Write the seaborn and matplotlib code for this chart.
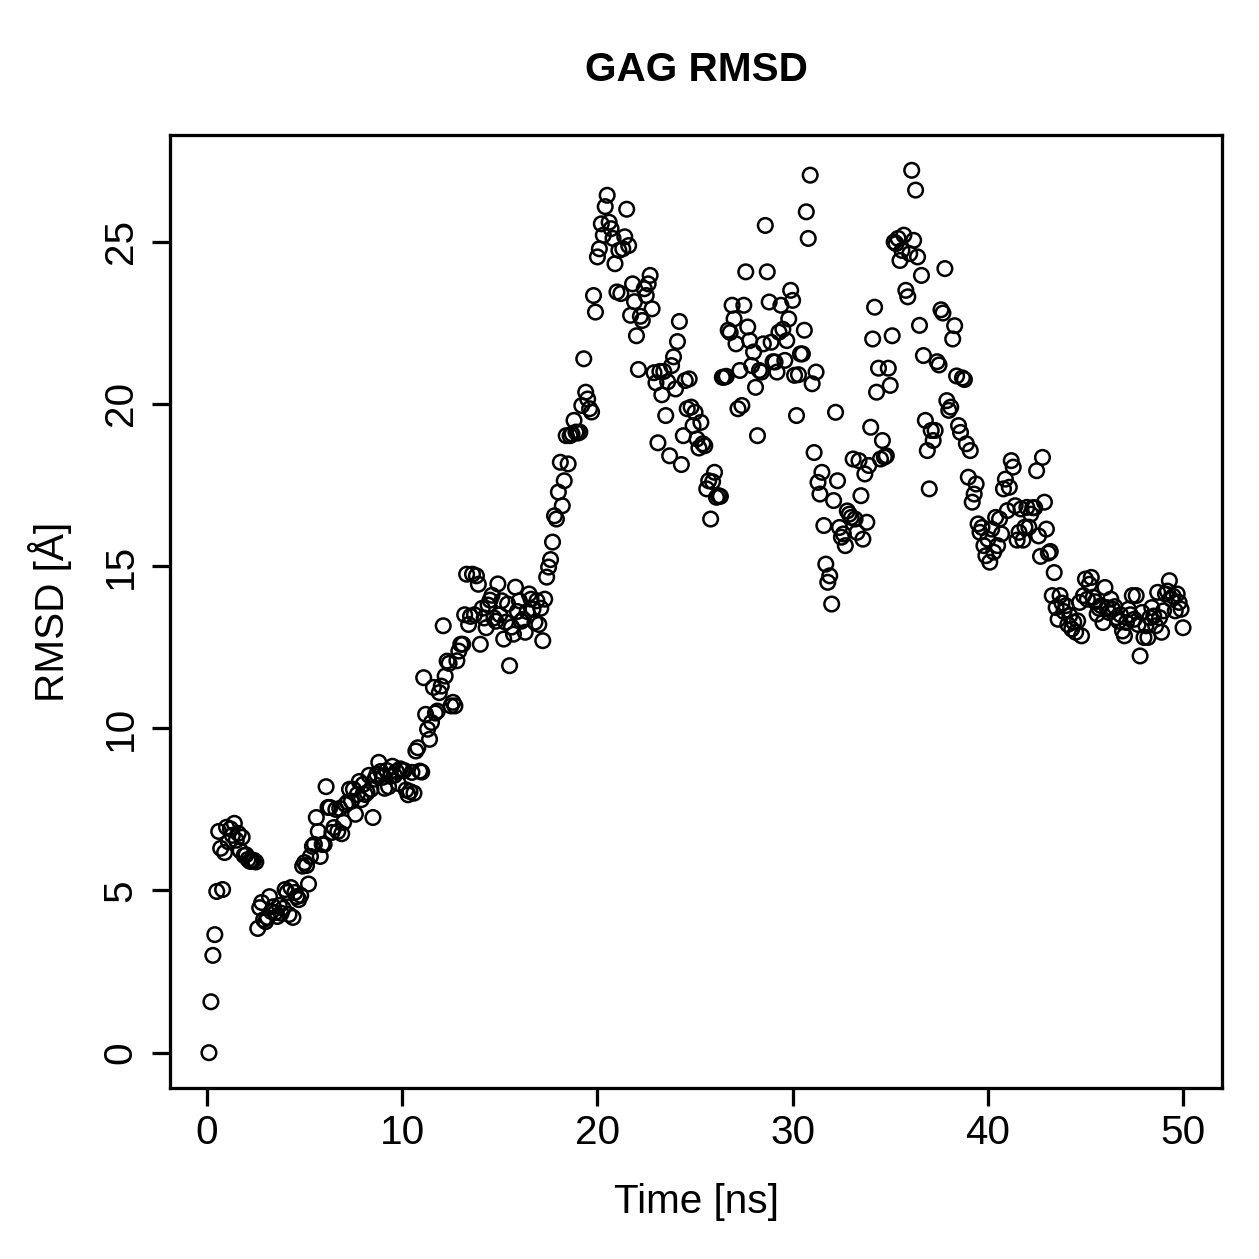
"""
GAG RMSD over a 50 ns trajectory, base-R look (open circles, boxed axes).
"""
import numpy as np
import pandas as pd
import matplotlib
matplotlib.use("Agg")
import matplotlib.pyplot as plt
import seaborn as sns

# ── RMSD values (Å), one frame every 0.1 ns, grouped per 5 ns ────────────────
rmsd_00_05 = [0.0, 1.57, 3.0, 3.64, 4.97, 6.82, 6.3, 5.03, 6.17, 6.95,
              6.5, 6.9, 6.7, 7.07, 6.55, 6.76, 6.23, 6.64, 6.08, 6.1,
              5.96, 5.9, 5.9, 5.93, 5.88, 3.83, 4.47, 4.63, 4.1, 4.04,
              4.17, 4.81, 4.35, 4.5, 4.32, 4.2, 4.54, 4.3, 4.45, 5.03,
              4.94, 4.26, 5.09, 4.17, 4.94, 4.81, 4.72, 4.85, 5.75, 5.86]
rmsd_05_10 = [5.77, 5.2, 6.05, 6.36, 6.42, 7.25, 6.82, 6.05, 6.42, 6.42,
              8.2, 7.56, 7.56, 6.79, 6.94, 7.5, 6.82, 7.53, 6.75, 7.1,
              7.65, 7.72, 8.12, 7.75, 8.12, 7.35, 7.96, 8.36, 7.8, 8.27,
              7.96, 8.02, 8.55, 8.12, 7.25, 8.43, 8.58, 8.95, 8.67, 8.49,
              8.15, 8.7, 8.2, 8.52, 8.83, 8.55, 8.67, 8.3, 8.75, 8.7]
rmsd_10_15 = [8.7, 8.1, 7.95, 8.05, 8.64, 8.0, 9.3, 9.4, 8.68, 8.65,
              11.56, 10.43, 9.97, 9.66, 10.18, 11.26, 10.47, 10.53, 11.1, 11.3,
              13.16, 11.61, 12.07, 12.0, 10.69, 10.8, 10.69, 12.08, 12.38, 12.59,
              12.59, 13.5, 14.75, 13.2, 13.45, 14.75, 13.5, 14.7, 14.44, 12.59,
              13.7, 13.4, 13.1, 13.8, 13.95, 14.1, 13.4, 13.3, 14.45, 13.5]
rmsd_15_20 = [13.93, 12.75, 13.27, 13.83, 11.93, 13.12, 12.9, 14.35, 13.6, 13.93,
              13.3, 13.36, 12.96, 13.6, 14.14, 13.98, 13.67, 13.27, 13.93, 13.2,
              13.7, 12.7, 13.98, 14.66, 14.97, 15.2, 15.74, 16.55, 16.45, 17.28,
              18.2, 16.86, 17.63, 19.02, 18.15, 19.02, 19.07, 19.49, 19.13, 19.1,
              19.13, 19.95, 21.39, 20.36, 20.15, 19.85, 19.75, 23.34, 22.83, 24.53]
rmsd_20_25 = [24.78, 25.55, 25.2, 26.08, 26.43, 25.6, 25.4, 25.1, 24.32, 23.45,
              24.73, 23.4, 24.78, 25.15, 26.0, 24.88, 22.73, 23.7, 23.15, 22.1,
              21.06, 22.7, 22.57, 23.55, 23.34, 23.7, 23.96, 22.93, 20.96, 20.65,
              18.8, 21.0, 20.28, 21.0, 19.64, 20.68, 18.4, 21.18, 21.45, 20.46,
              21.92, 22.54, 18.13, 19.02, 20.72, 19.85, 20.77, 19.9, 19.33, 19.74]
rmsd_25_30 = [18.92, 18.64, 19.43, 18.77, 18.71, 17.38, 17.63, 16.45, 17.6, 17.89,
              17.12, 17.17, 17.15, 20.82, 20.82, 20.85, 22.27, 22.2, 23.04, 22.62,
              21.85, 19.85, 21.03, 19.95, 23.04, 24.07, 22.37, 21.95, 21.18, 21.6,
              20.51, 19.02, 21.03, 20.98, 21.85, 25.5, 24.07, 23.14, 21.9, 21.3,
              21.29, 20.98, 22.21, 23.04, 22.3, 21.34, 21.95, 22.62, 23.5, 23.19]
rmsd_30_35 = [20.88, 19.64, 20.9, 21.54, 21.54, 22.27, 25.92, 25.1, 27.05, 20.62,
              18.5, 20.98, 17.58, 17.22, 17.89, 16.25, 15.06, 14.5, 14.7, 13.83,
              17.02, 19.74, 17.63, 16.19, 15.89, 15.99, 15.63, 16.7, 16.6, 16.5,
              18.3, 16.45, 16.04, 18.25, 17.17, 15.83, 17.84, 16.35, 18.1, 19.28,
              22.0, 22.98, 20.36, 21.1, 18.3, 18.87, 18.36, 18.4, 21.1, 20.57]
rmsd_35_40 = [22.1, 24.99, 24.94, 25.1, 24.42, 24.73, 25.2, 23.5, 23.3, 24.63,
              27.2, 25.04, 26.59, 24.53, 22.42, 23.96, 21.49, 19.49, 18.56, 17.38,
              19.18, 18.87, 19.18, 21.3, 21.2, 22.9, 22.8, 24.17, 20.1, 19.8,
              19.9, 22.0, 22.41, 20.86, 19.33, 19.12, 20.8, 20.75, 18.77, 17.74,
              18.56, 16.97, 17.22, 17.53, 16.3, 16.04, 16.19, 15.63, 15.32, 15.83]
rmsd_40_45 = [15.12, 16.14, 15.43, 16.5, 15.63, 16.45, 15.99, 17.38, 17.68, 16.71,
              17.43, 18.25, 18.05, 16.86, 15.8, 16.04, 16.76, 15.8, 16.2, 16.81,
              16.2, 16.6, 16.8, 16.8, 17.94, 15.93, 15.3, 18.35, 16.97, 16.14,
              15.4, 15.45, 14.09, 14.8, 13.72, 13.36, 14.09, 13.86, 13.6, 13.78,
              13.2, 13.47, 13.06, 13.27, 12.96, 13.31, 13.88, 12.85, 14.09, 14.6]
rmsd_45_50 = [13.98, 14.44, 14.65, 14.04, 13.9, 13.52, 13.7, 13.78, 13.26, 14.34,
              13.72, 13.57, 13.98, 13.67, 13.75, 13.41, 13.3, 13.5, 13.0, 12.85,
              13.26, 13.67, 13.5, 14.09, 13.36, 14.09, 13.2, 12.23, 13.57, 12.8,
              13.16, 12.8, 13.41, 13.72, 13.46, 13.16, 14.19, 13.41, 12.96, 13.62,
              14.14, 14.23, 14.55, 13.98, 14.07, 13.62, 14.14, 13.88, 13.67, 13.1]

x_ticks = [0, 10, 20, 30, 40, 50]
y_ticks = [0, 5, 10, 15, 20, 25]

rmsd = np.concatenate([rmsd_00_05, rmsd_05_10, rmsd_10_15, rmsd_15_20, rmsd_20_25,
                       rmsd_25_30, rmsd_30_35, rmsd_35_40, rmsd_40_45, rmsd_45_50])
frame_step_ns = 0.1
df = pd.DataFrame({"time": np.arange(1, len(rmsd) + 1) * frame_step_ns,
                   "rmsd": rmsd})

# ── Plot ─────────────────────────────────────────────────────────────────────
sns.set_theme(style="white")
plt.rcParams['font.family'] = ['Liberation Sans', 'DejaVu Sans']

W = H = 1259
DPI = 180
fig = plt.figure(figsize=(W / DPI, H / DPI), dpi=DPI)
fig.patch.set_facecolor('white')
# axes box in pixel coords: x 170..1222, y 135..1088
ax = fig.add_axes([170 / W, 1 - 1088 / H, (1222 - 170) / W, (1088 - 135) / H])

sns.scatterplot(data=df, x="time", y="rmsd", ax=ax, marker="o", s=34,
                facecolors="none", edgecolor="black", linewidth=1.0, legend=False)
ax.collections[0].set_facecolor("none")

# R-style 4% axis extension
def ext(lo, hi):
    d = (hi - lo) * 0.04
    return lo - d, hi + d

ax.set_xlim(*ext(df.time.min(), df.time.max()))
ax.set_ylim(*ext(df.rmsd.min(), df.rmsd.max()))
ax.set_xticks(x_ticks)
ax.set_yticks(y_ticks)

for s in ax.spines.values():
    s.set_visible(True)
    s.set_color('black')
    s.set_linewidth(1.3)
ax.tick_params(axis='both', direction='out', length=7.2, width=1.3, color='black',
               labelsize=16.2, labelcolor='black', bottom=True, left=True)
ax.tick_params(axis='x', pad=3)
ax.tick_params(axis='y', pad=5, labelrotation=90)
for lab in ax.get_yticklabels():
    lab.set_verticalalignment('center')

ax.set_xlabel('Time [ns]', fontsize=16.2, color='black')
ax.xaxis.set_label_coords(0.5, (1088 - 1202) / (1088 - 135))
ax.xaxis.label.set_verticalalignment('center')
ax.set_ylabel('RMSD [Å]', fontsize=16.2, color='black')
ax.yaxis.set_label_coords((50 - 170) / (1222 - 170), 0.5)
ax.yaxis.label.set_verticalalignment('center')

fig.text(696 / W, 1 - 70 / H, 'GAG RMSD', ha='center', va='center',
         fontsize=16.2, fontweight='bold', color='black')

plt.savefig('out.png', dpi=DPI)
